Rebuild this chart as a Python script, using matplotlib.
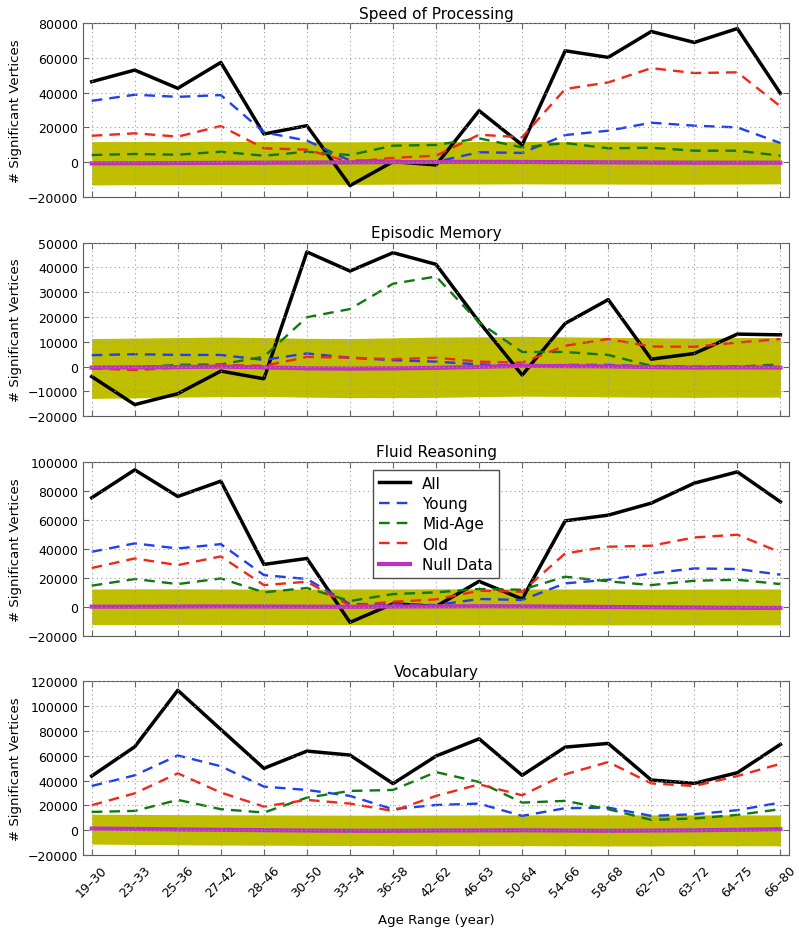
import matplotlib
matplotlib.use('Agg')
import matplotlib.pyplot as plt

# Age ranges on the x axis
age_ranges = ['19–30', '23–33', '25–36', '27–42', '28–46', '30–50', '33–54', '36–58',
              '42–62', '46–63', '50–64', '54–66', '58–68', '62–70', '63–72', '64–75', '66–80']

# Speed of Processing
sp_all = [46300, 53000, 42500, 57400, 16200, 21000, -13500, 300, -1600, 29600,
          9900, 64100, 60300, 75200, 68900, 76900, 39600]
sp_young = [35300, 38800, 37600, 38600, 17200, 12400, 900, 800, 200, 5700,
            5300, 15600, 18100, 22700, 21000, 20000, 11000]
sp_mid = [4100, 4700, 4300, 6000, 3700, 6000, 4100, 9500, 9900, 13700,
          8500, 11000, 8000, 8300, 6600, 6600, 3700]
sp_old = [15200, 16600, 14700, 20800, 8000, 7200, 0, 2500, 3700, 15800,
          14300, 42100, 45900, 54100, 51300, 51700, 32100]
sp_null = [-700, -600, -500, -400, -300, -200, -100, 0, 100, 200,
           100, 0, -100, -200, -300, -300, -300]
sp_hi = [11800, 11900, 11900, 12000, 11900, 11800, 11700, 11800, 11800, 11900,
         11900, 11800, 11800, 11700, 11800, 11800, 11800]
sp_lo = [-13100, -13000, -13000, -12900, -12900, -12800, -12800, -12700, -12600, -12600,
         -12500, -12600, -12600, -12700, -12700, -12600, -12500]

# Episodic Memory
em_all = [-4000, -15300, -10900, -1800, -4900, 46200, 38500, 45900, 41200, 18000,
          -3400, 17400, 27000, 3000, 5300, 13100, 12800]
em_young = [4600, 5000, 4700, 4700, 2700, 5300, 3600, 2600, 2000, 900,
            300, 700, 700, 0, -400, 0, -400]
em_mid = [-700, -400, 700, 900, 4000, 19900, 23200, 33400, 36300, 17800,
          5900, 5900, 4700, 300, 0, 0, 900]
em_old = [-700, -1400, -400, 700, 300, 3900, 3600, 3000, 3600, 2000,
          1600, 8400, 11100, 8100, 8000, 9700, 11100]
em_null = [-400, -300, -200, 0, -300, -700, -800, -700, -500, -100,
           300, 200, 100, -200, -400, -300, -400]
em_hi = [11300, 11500, 11700, 11900, 11700, 11400, 11300, 11600, 11900, 12000,
         12200, 12000, 11800, 11600, 11500, 11700, 11700]
em_lo = [-12800, -12600, -12300, -12100, -12000, -12300, -12500, -12500, -12400, -12100,
         -11900, -12000, -12200, -12300, -12400, -12300, -12300]

# Fluid Reasoning
fr_all = [75200, 94500, 76100, 86700, 29200, 33300, -10800, 2000, 200, 17500,
          5300, 59300, 63200, 71500, 85300, 93100, 72400]
fr_young = [37900, 43700, 40200, 43200, 21800, 19100, 1800, 1800, 1100, 5300,
            4600, 16100, 18600, 23000, 26400, 26000, 22100]
fr_mid = [14500, 19100, 15600, 19500, 9900, 12900, 3900, 8700, 9900, 12200,
          11700, 20700, 17500, 14900, 17900, 18600, 15600]
fr_old = [26700, 33300, 28700, 34700, 14900, 17200, 700, 3400, 5000, 11000,
          10300, 36800, 41400, 42100, 47800, 49700, 37500]
fr_null = [0, 0, 100, 200, 100, 0, -100, 100, 200, 300,
           200, 0, -200, -400, -600, -800, -900]
fr_hi = [12200, 12300, 12300, 12200, 12100, 12100, 12200, 12200, 12300, 12300,
         12200, 12200, 12200, 12100, 12100, 12200, 12200]
fr_lo = [-12400, -12400, -12300, -12300, -12400, -12500, -12500, -12400, -12400, -12500,
         -12500, -12600, -12600, -12600, -12600, -12600, -12600]

# Vocabulary
vo_all = [43600, 67200, 112700, 81100, 49800, 63700, 60500, 37500, 59700, 73600,
          44200, 66900, 69900, 40400, 37700, 46300, 69100]
vo_young = [35600, 44200, 60200, 51500, 35100, 32400, 27600, 16900, 20300, 21400,
            11500, 17700, 18200, 11500, 12800, 16100, 22200]
vo_mid = [14700, 15500, 24400, 16900, 14200, 26200, 31600, 32400, 46800, 38800,
          22200, 23600, 16900, 8300, 9400, 12300, 16900]
vo_old = [20100, 29700, 45800, 30300, 19000, 24400, 21400, 15500, 27600, 36900,
          28100, 45000, 54900, 37700, 35600, 43600, 53500]
vo_null = [1300, 1000, 600, 300, 0, -300, -500, -500, -300, -200,
           -100, -300, -500, -300, -100, 300, 800]
vo_hi = [12800, 12700, 12500, 12400, 12300, 12200, 12100, 12100, 12200, 12300,
         12300, 12300, 12300, 12300, 12300, 12300, 12300]
vo_lo = [-11200, -11500, -11800, -12000, -12100, -12300, -12400, -12500, -12500, -12500,
         -12500, -12600, -12700, -12700, -12600, -12600, -12600]

titles = ['Speed of Processing', 'Episodic Memory', 'Fluid Reasoning', 'Vocabulary']
panels = [
    (sp_all, sp_young, sp_mid, sp_old, sp_null, sp_hi, sp_lo),
    (em_all, em_young, em_mid, em_old, em_null, em_hi, em_lo),
    (fr_all, fr_young, fr_mid, fr_old, fr_null, fr_hi, fr_lo),
    (vo_all, vo_young, vo_mid, vo_old, vo_null, vo_hi, vo_lo),
]
ylims = [(-20000, 80000), (-20000, 50000), (-20000, 100000), (-20000, 120000)]
ysteps = [20000, 10000, 20000, 20000]

plt.rcParams['font.family'] = 'DejaVu Sans'
plt.rcParams['xtick.direction'] = 'in'
plt.rcParams['ytick.direction'] = 'in'
plt.rcParams['xtick.top'] = True
plt.rcParams['ytick.right'] = True
plt.rcParams['axes.axisbelow'] = False

fig, axes = plt.subplots(4, 1, figsize=(7.99, 9.29), dpi=100, sharex=True)
fig.subplots_adjust(left=0.104, right=0.9875, top=0.974, bottom=0.0786, hspace=0.2625)

x = list(range(len(age_ranges)))
for ax, title, data, ylim, step in zip(axes, titles, panels, ylims, ysteps):
    a, yng, mid, old, null, hi, lo = data
    ax.fill_between(x, lo, hi, color='y', linewidth=0)
    ax.plot(x, a, 'k-', lw=2.5, label='All')
    ax.plot(x, yng, '--', color='#2040f0', lw=1.7, dashes=(4.5, 3), label='Young')
    ax.plot(x, mid, '--', color='#107810', lw=1.7, dashes=(4.5, 3), label='Mid-Age')
    ax.plot(x, old, '--', color='#f02818', lw=1.7, dashes=(4.5, 3), label='Old')
    ax.plot(x, null, '-', color='#c030c0', lw=3, label='Null Data')
    ax.set_title(title, fontsize=11, pad=4)
    ax.set_ylim(*ylim)
    ax.set_yticks(range(ylim[0], ylim[1] + 1, step))
    ax.set_xlim(-0.2, 16.2)
    ax.set_ylabel('# Significant Vertices', fontsize=9.5)
    ax.tick_params(labelsize=9, length=4, color='0.4')
    ax.grid(True, linestyle=(0, (1, 3)), color='0.6', linewidth=0.8)
    for s in ax.spines.values():
        s.set_color('0.35')

axes[2].legend(loc='upper center', fontsize=11, fancybox=False, framealpha=1,
               edgecolor='0.3', handlelength=2.0, borderpad=0.4, labelspacing=0.35)
axes[3].set_xticks(x)
axes[3].set_xticklabels(age_ranges, rotation=45, ha='center')
axes[3].tick_params(axis='x', pad=6)
axes[3].set_xlabel('Age Range (year)', fontsize=9.5, labelpad=10)

fig.savefig('out.png', dpi=100)
